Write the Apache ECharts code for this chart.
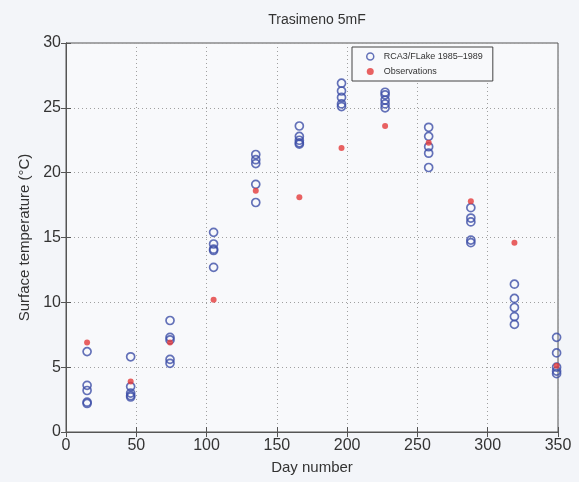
<!DOCTYPE html>
<html>
<head>
<meta charset="utf-8">
<script src="https://cdn.jsdelivr.net/npm/echarts@6/dist/echarts.min.js"></script>
<style>
  html, body { margin: 0; padding: 0; background: #f3f5f9; }
  #chart { width: 579px; height: 482px; }
</style>
</head>
<body>
<div id="chart"></div>
<script>
// day of year (mid-month) for each sample column
const days = [15, 46, 74, 105, 135, 166, 196, 227, 258, 288, 319, 349]

// RCA3/FLake model values, 1985-1989 (five per column)
const model = [
  [6.2, 3.6, 3.2, 2.3, 2.2],
  [5.8, 3.5, 3.0, 2.8, 2.7],
  [8.6, 7.3, 7.1, 5.6, 5.3],
  [15.4, 14.5, 14.1, 14.0, 12.7],
  [21.4, 21.0, 20.7, 19.1, 17.7],
  [23.6, 22.8, 22.5, 22.3, 22.2],
  [26.9, 26.3, 25.8, 25.3, 25.1],
  [26.2, 26.0, 25.6, 25.3, 25.0],
  [23.5, 22.8, 22.0, 21.5, 20.4],
  [17.3, 16.5, 16.2, 14.8, 14.6],
  [11.4, 10.3, 9.6, 8.9, 8.3],
  [7.3, 6.1, 5.0, 4.7, 4.5]
]

// observed surface temperature
const observed = [6.9, 3.9, 6.9, 10.2, 18.6, 18.1, 21.9, 23.6, 22.3, 17.8, 14.6, 5.1]

const xTicks = { min: 0, max: 350, interval: 50 }
const yTicks = { min: 0, max: 30, interval: 5 }

const blue = '#3d4fa8'
const red = '#e33b3b'
const ink = '#333'
const font = 'Liberation Sans, Arial, sans-serif'

const modelPoints = []
days.forEach((d, i) => {
  model[i].forEach(v => modelPoints.push([d, v]))
})
const obsPoints = days.map((d, i) => [d, observed[i]])

const chart = echarts.init(document.getElementById('chart'))

const splitLine = { show: true, lineStyle: { color: '#a0a0a0', type: [1, 3], width: 1 } }
const axisLine = { show: true, lineStyle: { color: '#555', width: 1 } }
const tick = { show: true, inside: true, length: 5, lineStyle: { color: '#555' } }

chart.setOption({
  backgroundColor: '#f3f5f9',
  animation: false,
  textStyle: { fontFamily: font },
  title: {
    text: 'Trasimeno 5mF',
    left: 312,
    top: 8,
    textAlign: 'center',
    textStyle: { fontSize: 14, fontWeight: 'normal', color: ink, fontFamily: font }
  },
  legend: {
    orient: 'vertical',
    left: 352,
    top: 47,
    width: 170,
    padding: [5, 10, 5, 14],
    itemGap: 6,
    itemWidth: 7,
    itemHeight: 7,
    borderColor: '#444',
    borderWidth: 1,
    backgroundColor: '#f8f9fb',
    textStyle: { fontSize: 9, color: ink, padding: [0, 0, 0, 5] },
    data: [
      { name: 'RCA3/FLake 1985\u20131989', itemStyle: { color: 'rgba(0,0,0,0)', borderColor: blue, borderWidth: 1.5 } },
      { name: 'Observations', itemStyle: { color: red } }
    ]
  },
  grid: {
    left: 66,
    right: 21,
    top: 43,
    bottom: 50,
    show: true,
    backgroundColor: '#f8f9fb',
    borderColor: '#555',
    borderWidth: 1
  },
  xAxis: [{
    type: 'value',
    min: xTicks.min,
    max: xTicks.max,
    interval: xTicks.interval,
    name: 'Day number',
    nameLocation: 'middle',
    nameGap: 28,
    nameTextStyle: { fontSize: 15, color: ink },
    axisLine: axisLine,
    axisTick: tick,
    axisLabel: { fontSize: 16, color: ink, margin: 6 },
    splitLine: splitLine
  }, {
    type: 'value',
    position: 'top',
    min: xTicks.min,
    max: xTicks.max,
    interval: xTicks.interval,
    axisLine: axisLine,
    axisTick: tick,
    axisLabel: { show: false },
    splitLine: { show: false }
  }],
  yAxis: [{
    type: 'value',
    min: yTicks.min,
    max: yTicks.max,
    interval: yTicks.interval,
    name: 'Surface temperature (\u00B0C)',
    nameLocation: 'middle',
    nameGap: 31,
    nameTextStyle: { fontSize: 15, color: ink },
    axisLine: axisLine,
    axisTick: tick,
    axisLabel: { fontSize: 16, color: ink, margin: 5 },
    splitLine: splitLine
  }, {
    type: 'value',
    position: 'right',
    min: yTicks.min,
    max: yTicks.max,
    interval: yTicks.interval,
    axisLine: axisLine,
    axisTick: tick,
    axisLabel: { show: false },
    splitLine: { show: false }
  }],
  series: [
    {
      name: 'RCA3/FLake 1985\u20131989',
      type: 'scatter',
      symbol: 'circle',
      symbolSize: 8,
      itemStyle: { color: 'rgba(0,0,0,0)', borderColor: blue, borderWidth: 1.7 },
      data: modelPoints,
      z: 3
    },
    {
      name: 'Observations',
      type: 'scatter',
      symbol: 'circle',
      symbolSize: 6,
      itemStyle: { color: red },
      data: obsPoints,
      z: 4
    }
  ]
})
</script>
</body>
</html>
